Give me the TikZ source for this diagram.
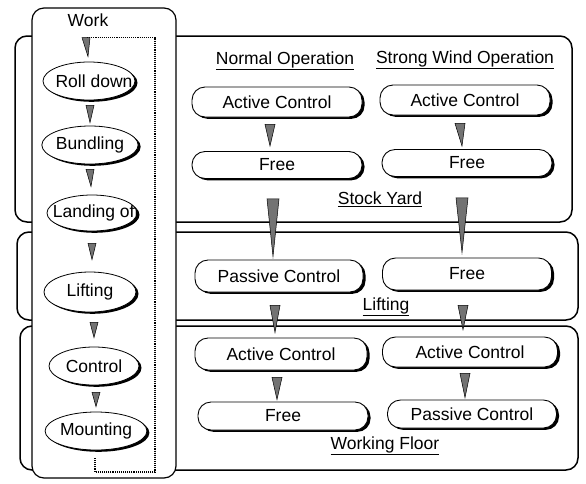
\documentclass[tikz,border=0pt]{standalone}
\usepackage{fontspec}
\setmainfont{Liberation Sans}
\usetikzlibrary{calc,shapes.geometric,shadows}
\tikzset{
 bigbox/.style={draw, line width=1.5pt, rounded corners=12pt, fill=white, inner sep=0pt},
 shad/.style={drop shadow={fill=black, opacity=1, shadow xshift=2.5pt, shadow yshift=-1.8pt}},
 pill/.style={draw, line width=0.9pt, rounded corners=13pt, fill=white, minimum width=170pt, minimum height=30pt, inner sep=0pt, shad},
 oval/.style={ellipse, draw, line width=0.8pt, fill=white, minimum width=90pt, minimum height=38pt, inner sep=0pt, shad},
 tri/.style={draw=black, line width=0.5pt, fill=black!55},
 lbl/.style={inner sep=1pt},
 flow/.style={densely dotted, line width=1.1pt},
}
\newcommand\tri[3]{\path[tri] let \p1=#1, \p2=#2 in (\x1-#3pt,\y1) -- (\x1+#3pt,\y1) -- (\x2,\y2) -- cycle;}
\begin{document}
\begin{tikzpicture}[x=1pt,y=-1pt,font=\fontsize{17.5}{20}\selectfont]
\useasboundingbox (0,0) rectangle (586,483);
% background layers
\node[bigbox, minimum width=557pt, minimum height=186pt] (sy) at (293.5,129) {};
\node[bigbox, minimum width=561pt, minimum height=88pt] (lf) at (297.5,276) {};
\node[bigbox, minimum width=558pt, minimum height=144pt] (wf) at (299,398) {};
% work column
\node[bigbox, line width=1.2pt, minimum width=144pt, minimum height=470pt] (wc) at (104,243) {};
\node[lbl] (work) at (88,20) {Work};
\node[oval, minimum width=92pt, path picture={\node at ($(path picture bounding box.center)+(5,0)$) {Roll down};}] (rd) at (89,81) {};
\node[oval] (bu) at (90,145) {Bundling};
\node[oval, minimum height=36pt, path picture={\node at ($(path picture bounding box.center)+(4,0)$) {Landing off};}] (lo) at (92,213) {};
\node[oval, minimum width=92pt, minimum height=40pt] (li) at (90,292) {Lifting};
\node[oval] (co) at (94,366) {Control};
\node[oval, minimum width=91pt] (mo) at (96,431) {Mounting};
% flow line
\coordinate (fs) at ($(rd.north)+(-2,-24)$);
\coordinate (fe) at ($(mo.south)+(-1,8)$);
\draw[flow] (fs) -| (155,472) -| (fe);
\tri{($(rd.north)+(-3,-24)$)}{($(rd.north)+(-1,-5)$)}{4}
\tri{($(rd.south)+(1,5)$)}{($(bu.north)+(0,-3)$)}{4}
\tri{($(bu.south)+(0,5)$)}{($(lo.north)+(-1,-8)$)}{4}
\tri{($(lo.south)+(0,12)$)}{($(li.north)+(2,-12)$)}{4}
\tri{($(li.south)+(4,10)$)}{($(co.north)+(0,-9)$)}{4}
\tri{($(co.south)+(2,7)$)}{($(mo.north)+(0,-5)$)}{4}
% Stock Yard
\node[lbl] (no) at (285,61) {\underline{Normal Operation}};
\node[lbl] (sw) at (465,60) {\underline{Strong Wind Operation}};
\node[pill] (sa1) at (277,102) {Active Control};
\node[pill] (sa2) at (465,100) {Active Control};
\node[pill, minimum height=27pt] (sf1) at (277,165) {\raisebox{-2pt}{Free}};
\node[pill, minimum height=27pt] (sf2) at (467,163) {Free};
\node[lbl] (syl) at (380,199) {\underline{Stock Yard}};
\tri{($(sa1.south)+(-7,7)$)}{($(sf1.north)+(-7,-5)$)}{5}
\tri{($(sa2.south)+(-5,8)$)}{($(sf2.north)+(-5,-3)$)}{5}
% Lifting
\node[pill, minimum width=168pt, minimum height=32pt] (lp1) at (279,276) {Passive Control};
\node[pill, minimum width=169pt, minimum height=32pt] (lf2) at (467,274) {\raisebox{2pt}{Free}};
\node[lbl] (lfl) at (386,307) {\underline{Lifting}};
\tri{($(sf1.south)+(-4,20)$)}{($(lp1.north)+(-6,-3)$)}{6}
\tri{($(sf2.south)+(-5,21)$)}{($(lf2.north)+(-5,-5)$)}{6}
% Working Floor
\node[pill, minimum width=172pt, minimum height=32pt] (wa1) at (281,354) {Active Control};
\node[pill, minimum width=175pt] (wa2) at (470,352) {Active Control};
\node[pill, minimum height=28pt] (wf1) at (283,416) {Free};
\node[pill, minimum width=169pt, minimum height=28pt] (wp2) at (472,414) {Passive Control};
\node[lbl] (wfl) at (385,446) {\underline{Working Floor}};
\tri{($(lp1.south)+(-4,13)$)}{($(wa1.north)+(-6,-5)$)}{5}
\tri{($(lf2.south)+(-4,15)$)}{($(wa2.north)+(-7,-7)$)}{5}
\tri{($(wa1.south)+(-4,7)$)}{($(wf1.north)+(-6,-2)$)}{5}
\tri{($(wa2.south)+(-5,6)$)}{($(wp2.north)+(-7,-2)$)}{5}
\end{tikzpicture}
\end{document}
